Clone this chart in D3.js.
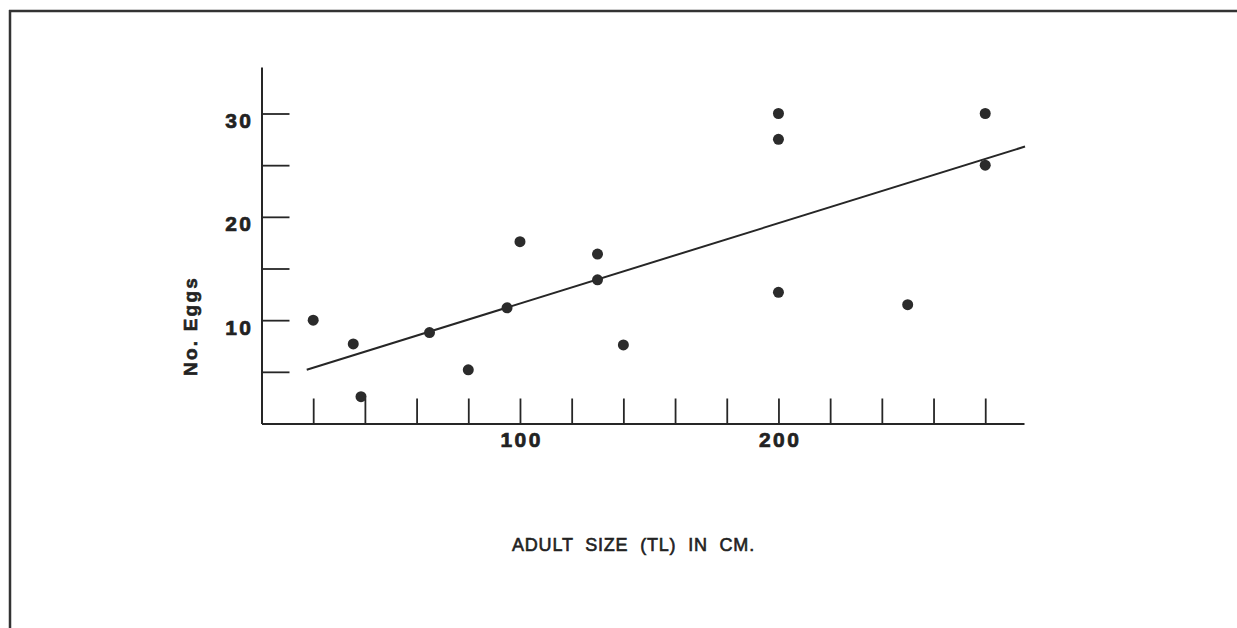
<!DOCTYPE html>
<html>
<head>
<meta charset="utf-8">
<script src="https://cdn.jsdelivr.net/npm/d3@7"></script>
<style>
  html, body { margin: 0; padding: 0; background: #fff; }
  svg { display: block; }
  text { font-family: "Liberation Sans", Arial, Helvetica, sans-serif; fill: #222; }
</style>
</head>
<body>
<svg id="chart" width="1237" height="628"></svg>
<script>
// Adult size (total length, cm) against number of eggs
const sizes = [20, 35.5, 38.5, 65, 80, 95, 100, 130, 130, 140, 200, 200, 200, 250, 280, 280];
const eggs  = [10, 7.7, 2.6, 8.8, 5.2, 11.2, 17.6, 16.4, 13.9, 7.6, 30, 27.5, 12.7, 11.5, 30, 25];

// Fitted regression line, given by its two end points
const fitX = [17.5, 295.4];
const fitY = [5.2, 26.8];

// Axis ticks and labels
const xTicks = [20, 40, 60, 80, 100, 120, 140, 160, 180, 200, 220, 240, 260, 280];
const xLabelled = [100, 200];
const yTicks = [5, 10, 15, 20, 25, 30];
const yLabelled = [10, 20, 30];

const xTitle = "ADULT SIZE (TL) IN CM.";
const yTitle = "No. Eggs";

const svg = d3.select("#chart");
const ink = "#262626";

// Frame: top and left rules
svg.append("line").attr("x1", 9).attr("x2", 1237).attr("y1", 11).attr("y2", 11)
  .attr("stroke", "#333").attr("stroke-width", 2.5);
svg.append("line").attr("x1", 10).attr("x2", 10).attr("y1", 10).attr("y2", 628)
  .attr("stroke", "#333").attr("stroke-width", 2.5);

const x = d3.scaleLinear().domain([0, 295]).range([261.5, 1024]);
const y = d3.scaleLinear().domain([0, 34.5]).range([423.5, 67]);

const labelStyle = sel => sel
  .attr("fill", "#222")
  .attr("stroke", "#222")
  .attr("stroke-width", 0.7)
  .style("font-size", "21px")
  .style("font-weight", "bold")
  .style("letter-spacing", "2.5px");

// X axis with ticks pointing up into the plot
const xAxis = d3.axisBottom(x)
  .tickValues(xTicks)
  .tickSizeInner(-25)
  .tickSizeOuter(0)
  .tickPadding(9)
  .tickFormat(d => xLabelled.includes(d) ? d : "");

const gx = svg.append("g").attr("transform", `translate(0,${y(0)})`).call(xAxis);
gx.select(".domain").attr("stroke", ink).attr("stroke-width", 2);
gx.selectAll(".tick line").attr("stroke", ink).attr("stroke-width", 1.8);
gx.selectAll(".tick text").call(labelStyle).attr("dx", 1.2);

// Y axis with ticks pointing right into the plot
const yAxis = d3.axisLeft(y)
  .tickValues(yTicks)
  .tickSizeInner(-28)
  .tickSizeOuter(0)
  .tickPadding(8)
  .tickFormat(d => yLabelled.includes(d) ? d : "");

const gy = svg.append("g").attr("transform", `translate(${x(0)},0)`).call(yAxis);
gy.select(".domain").attr("stroke", ink).attr("stroke-width", 2);
gy.selectAll(".tick line").attr("stroke", ink).attr("stroke-width", 1.8);
gy.selectAll(".tick text").call(labelStyle).attr("dy", 14);

gx.selectAll("text").attr("font-family", null);
gy.selectAll("text").attr("font-family", null);

// Regression line
const line = d3.line().x(d => x(d[0])).y(d => y(d[1]));
svg.append("path")
  .datum(d3.zip(fitX, fitY))
  .attr("d", line)
  .attr("fill", "none")
  .attr("stroke", ink)
  .attr("stroke-width", 2);

// Observations
svg.append("g").selectAll("circle")
  .data(d3.zip(sizes, eggs))
  .join("circle")
  .attr("cx", d => x(d[0]))
  .attr("cy", d => y(d[1]))
  .attr("r", 5.5)
  .attr("fill", "#2b2b2b");

// Axis titles
svg.append("text")
  .attr("x", 633.5).attr("y", 551)
  .attr("text-anchor", "middle")
  .attr("stroke", "#222").attr("stroke-width", 0.6)
  .style("font-size", "18px")
  .style("letter-spacing", "0.8px")
  .style("word-spacing", "6px")
  .text(xTitle);

svg.append("text")
  .attr("transform", "translate(197,326) rotate(-90)")
  .attr("text-anchor", "middle")
  .attr("stroke", "#222").attr("stroke-width", 0.6)
  .style("font-size", "19px")
  .style("font-weight", "bold")
  .style("letter-spacing", "2.2px")
  .text(yTitle);
</script>
</body>
</html>
